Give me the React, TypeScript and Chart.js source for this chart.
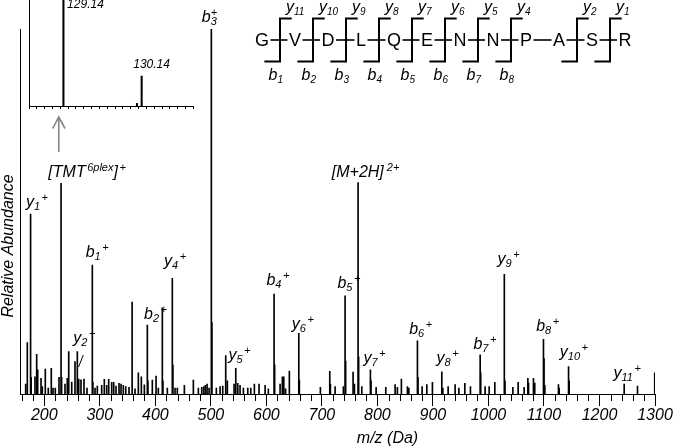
import React, { useEffect, useRef } from 'react';
import { Chart, registerables } from 'chart.js';

Chart.register(...registerables);

const FONT = '"Liberation Sans", Arial, Helvetica, sans-serif';

// ---------------- Data ----------------
// Main MS/MS spectrum: m/z (Da) and relative abundance (%)
const peakMz = [
  166.5, 169.4, 175.3, 176.3, 183.2, 186.3, 188.1, 194.1, 196.4, 201.8,
  207.2, 212.6, 215.7, 219.8, 226.5, 230.2, 231.2, 237.3, 241.4, 244.0,
  249.4, 255.3, 259.5, 262.0, 266.1, 271.5, 276.9, 286.5, 287.5, 291.4,
  295.5, 303.4, 308.1, 312.4, 316.0, 321.4, 325.0, 329.2, 334.6, 338.2,
  342.3, 346.7, 352.6, 358.2, 363.4, 369.4, 374.8, 380.2, 385.6, 386.6,
  394.6, 401.3, 405.4, 412.6, 413.6, 421.6, 430.6, 431.6, 435.5, 439.6,
  452.3, 468.5, 477.5, 483.6, 487.2, 490.1, 493.2, 496.8, 500.9, 501.9,
  509.9, 516.6, 521.4, 526.8, 529.7, 541.8, 544.9, 548.5, 552.6, 558.6,
  566.5, 571.9, 578.4, 586.8, 597.7, 603.6, 613.9, 614.9, 624.7, 628.8,
  631.4, 634.6, 641.4, 658.4, 659.4, 697.3, 714.2, 715.3, 723.8, 738.7,
  741.8, 742.8, 756.2, 758.6, 765.2, 766.2, 771.9, 787.4, 788.5, 797.7,
  815.1, 831.9, 836.0, 843.2, 854.1, 856.6, 872.1, 873.1, 880.5, 889.0,
  899.1, 916.0, 917.8, 927.4, 940.0, 946.7, 957.5, 967.6, 985.1, 986.1,
  994.0, 1001.3, 1011.5, 1028.6, 1029.8, 1044.0, 1053.5, 1064.3, 1071.0, 1072.2,
  1081.1, 1083.4, 1099.1, 1100.1, 1101.6, 1126.1, 1127.4, 1144.3, 1145.4, 1244.5,
  1268.5, 1299.5,
];
const peakAbundance = [
  2.7, 14.1, 49.3, 4.6, 4.7, 10.9, 6.6, 4.3, 2.0, 6.8,
  1.6, 7.0, 1.6, 1.6, 4.6, 57.7, 4.6, 2.7, 4.3, 11.6,
  3.3, 8.9, 11.6, 4.1, 3.9, 4.1, 1.6, 35.3, 3.3, 1.6,
  2.2, 2.4, 4.0, 2.4, 4.0, 3.2, 3.2, 2.2, 2.9, 2.7,
  2.4, 2.0, 1.8, 25.2, 1.4, 5.8, 4.7, 2.5, 18.9, 3.6,
  3.8, 4.9, 1.6, 23.6, 3.6, 1.6, 31.7, 7.9, 1.6, 1.6,
  2.4, 3.8, 1.6, 1.8, 2.0, 2.4, 2.7, 1.6, 100, 19.6,
  1.6, 2.0, 2.2, 10.5, 3.6, 2.7, 7.0, 2.9, 2.4, 1.6,
  1.6, 1.6, 2.7, 2.7, 2.4, 1.4, 27.4, 8.0, 2.7, 4.7,
  4.7, 1.4, 6.3, 16.6, 3.8, 1.8, 6.2, 2.7, 2.0, 2.0,
  26.9, 9.0, 6.0, 2.7, 57.9, 10.2, 2.0, 6.6, 3.6, 1.8,
  1.8, 2.6, 1.8, 4.1, 2.0, 1.6, 14.6, 4.6, 2.0, 2.6,
  3.2, 6.1, 1.6, 2.0, 2.6, 1.6, 2.9, 2.0, 10.7, 5.8,
  2.0, 2.0, 3.2, 32.8, 3.6, 1.8, 3.2, 1.8, 4.3, 3.0,
  4.3, 3.0, 15.0, 9.7, 2.4, 2.6, 1.6, 7.5, 3.6, 2.7,
  2.2, 5.8,
];

// Annotated fragment ions (base letter, index, charge) and the peak they mark
const ionMz = [175.3, 230.2, 286.5, 262.0, 385.6, 430.6, 500.9, 544.9, 613.9, 658.4,
  741.8, 765.2, 787.4, 872.1, 916.0, 985.1, 1028.6, 1099.1, 1144.3, 1244.5];
const ionBase = ['y', '[TMT', 'b', 'y', 'b', 'y', 'b', 'y', 'b', 'y',
  'b', '[M+2H]', 'y', 'b', 'y', 'b', 'y', 'b', 'y', 'y'];
const ionIndex = ['1', '6plex', '1', '2', '2', '4', '3', '5', '4', '6',
  '5', '', '7', '6', '8', '7', '9', '8', '10', '11'];
const ionCharge = ['+', '+', '+', '+', '+', '+', '+', '+', '+', '+',
  '+', '2+', '+', '+', '+', '+', '+', '+', '+', '+'];

// Inset: TMT reporter region
const insetMz = [129.14, 130.08, 130.14];
const insetAbundance = [120, 2.5, 28.3];
const insetLabelMz = [129.14, 130.14];
const insetLabels = ['129.14', '130.14'];

// Axis ticks
const xMin = 157.5;
const xMax = 1300;
const xMinorStep = 20;
const xMajorStep = 100;

// Peptide sequence and fragmentation sites
const residues = ['G', 'V', 'D', 'L', 'Q', 'E', 'N', 'N', 'P', 'A', 'S', 'R'];
const bIons = ['1', '2', '3', '4', '5', '6', '7', '8', '', '', '', ''];
const yIons = ['11', '10', '9', '8', '7', '6', '5', '4', '', '2', '1', ''];

// ---------------- Layout (pixels, not data) ----------------
const labelOffsets: Record<number, [number, number]> = {
  0: [-4.7, -7], 1: [-12.7, -6.6], 2: [-6.6, -8.3], 3: [-5.4, -36.3], 4: [-3.3, -5.7],
  5: [-8.3, -12], 6: [-9.6, -7.3], 7: [-7.4, -8.3], 8: [-7.7, -9], 9: [-7, -4],
  10: [-7.7, -7.4], 11: [-26.3, -5.4], 12: [-7, -7.3], 13: [-8.3, -6.7], 14: [-5.3, -8.4],
  15: [-6.7, -6], 16: [-6.7, -10], 17: [-7.3, -8.6], 18: [-8.7, -9.4], 19: [-10.7, -6],
};

type Seg = [string, 'n' | 'sub' | 'sup'];

function drawRich(ctx: CanvasRenderingContext2D, x: number, y: number, segs: Seg[], size: number, small: number, stacked = false, supGap = 1.5) {
  let cx = x;
  let subStart = x;
  ctx.textAlign = 'left';
  ctx.textBaseline = 'alphabetic';
  for (const [t, k] of segs) {
    if (!t) continue;
    const fs = k === 'n' ? size : small;
    ctx.font = `italic ${fs}px ${FONT}`;
    let dy = 0;
    if (k === 'sub') { dy = 3; subStart = cx; }
    if (k === 'sup') {
      dy = -Math.round(size * 0.38);
      if (stacked) cx = subStart; else cx += supGap;
    }
    ctx.fillText(t, cx, y + dy);
    cx += ctx.measureText(t).width;
  }
}

function abundanceAt(mz: number) {
  const i = peakMz.indexOf(mz);
  return i >= 0 ? peakAbundance[i] : 0;
}

const annotationPlugin = {
  id: 'spectrumAnnotations',
  afterDraw(chart: any) {
    const ctx: CanvasRenderingContext2D = chart.ctx;
    const xs = chart.scales.x;
    const ys = chart.scales.y;
    const area = chart.chartArea;
    ctx.save();
    ctx.fillStyle = '#000';
    ctx.strokeStyle = '#000';

    // minor x ticks
    ctx.lineWidth = 1;
    ctx.beginPath();
    for (let v = Math.ceil(xMin / xMinorStep) * xMinorStep; v <= xMax; v += xMinorStep) {
      if (v % xMajorStep === 0) continue;
      const px = Math.round(xs.getPixelForValue(v)) + 0.5;
      ctx.moveTo(px, area.bottom);
      ctx.lineTo(px, area.bottom + 7);
    }
    ctx.stroke();

    // ion labels
    ionMz.forEach((mz, i) => {
      const px = xs.getPixelForValue(mz);
      const py = ys.getPixelForValue(abundanceAt(mz));
      const [dx, dy] = labelOffsets[i] || [-8, -7];
      const base = ionBase[i];
      let segs: Seg[];
      let gap = 1.5;
      if (base === '[TMT') segs = [['[TMT', 'n'], [ionIndex[i], 'sup'], [']', 'n'], [ionCharge[i], 'sup']];
      else if (base === '[M+2H]') { segs = [['[M+2H]', 'n'], [ionCharge[i], 'sup']]; gap = 3; }
      else segs = [[base, 'n'], [ionIndex[i], 'sub'], [ionCharge[i], 'sup']];
      const stacked = base === 'b' && ionIndex[i] === '3';
      drawRich(ctx, px + dx, py + dy, segs, 16, 11, stacked, gap);
      if (base === 'y' && ionIndex[i] === '2') {
        ctx.lineWidth = 1;
        ctx.beginPath();
        ctx.moveTo(px + 4.6, py - 24);
        ctx.lineTo(px - 0.2, py - 12);
        ctx.stroke();
      }
    });

    // arrow pointing from TMT region to inset
    const ax = xs.getPixelForValue(230.2) - 2.3;
    ctx.strokeStyle = '#858585';
    ctx.lineWidth = 1.6;
    ctx.beginPath();
    ctx.moveTo(ax, 152);
    ctx.lineTo(ax, 118);
    ctx.moveTo(ax - 6, 128.5);
    ctx.lineTo(ax, 117);
    ctx.lineTo(ax + 6.3, 128.5);
    ctx.stroke();

    // axis titles
    ctx.fillStyle = '#000';
    ctx.font = `italic 16px ${FONT}`;
    ctx.textAlign = 'center';
    ctx.textBaseline = 'alphabetic';
    ctx.fillText('m/z (Da)', 387.5, 443);
    ctx.save();
    ctx.translate(8.5, 246);
    ctx.rotate(-Math.PI / 2);
    ctx.textBaseline = 'middle';
    ctx.fillText('Relative Abundance', 0, 0);
    ctx.restore();

    // peptide fragmentation diagram
    const x0 = 262;
    const step = 33;
    const yMid = 40;
    ctx.font = `18px ${FONT}`;
    ctx.textAlign = 'center';
    ctx.textBaseline = 'middle';
    ctx.fillStyle = '#000';
    const halfW: number[] = [];
    residues.forEach((r, i) => {
      const w = ctx.measureText(r).width;
      halfW.push(w / 2);
      ctx.fillText(r, x0 + i * step, yMid + 1);
    });
    ctx.strokeStyle = '#000';
    ctx.lineWidth = 1.6;
    for (let i = 0; i < residues.length - 1; i++) {
      const a = x0 + i * step + halfW[i] + 1.5;
      const b = x0 + (i + 1) * step - halfW[i + 1] - 1.5;
      ctx.beginPath();
      ctx.moveTo(a, yMid);
      ctx.lineTo(b, yMid);
      ctx.stroke();
      if (!bIons[i] && !yIons[i]) continue;
      const bx = x0 + i * step + step / 2 + 1.5;
      ctx.lineWidth = 2;
      ctx.beginPath();
      ctx.moveTo(bx + 11.7, 18.5);
      ctx.lineTo(bx, 18.5);
      ctx.lineTo(bx, 61.5);
      ctx.lineTo(bx - 15.6, 61.5);
      ctx.stroke();
      ctx.lineWidth = 1.6;
      if (yIons[i]) drawRich(ctx, bx + 6, 11.7, [['y', 'n'], [yIons[i], 'sub']], 16, 10);
      if (bIons[i]) drawRich(ctx, bx - 11.5, 80, [['b', 'n'], [bIons[i], 'sub']], 16, 10);
    }
    ctx.restore();
  },
};

const insetLabelPlugin = {
  id: 'insetLabels',
  afterDraw(chart: any) {
    const ctx: CanvasRenderingContext2D = chart.ctx;
    const xs = chart.scales.x;
    const ys = chart.scales.y;
    ctx.save();
    ctx.fillStyle = '#000';
    ctx.font = `italic 12px ${FONT}`;
    ctx.textBaseline = 'alphabetic';
    ctx.textAlign = 'left';
    insetLabelMz.forEach((mz, i) => {
      const px = xs.getPixelForValue(mz);
      const idx = insetMz.indexOf(mz);
      const h = insetAbundance[idx];
      if (h >= 100) {
        ctx.fillText(insetLabels[i], px + 3.7, chart.chartArea.top + 8.3);
      } else {
        ctx.fillText(insetLabels[i], px - 8.4, ys.getPixelForValue(h) - 7.7);
      }
    });
    ctx.restore();
  },
};

export default function App() {
  const mainRef = useRef<HTMLCanvasElement>(null);
  const insetRef = useRef<HTMLCanvasElement>(null);

  useEffect(() => {
    const main = new Chart(mainRef.current as HTMLCanvasElement, {
      type: 'bar',
      data: {
        datasets: [{
          data: peakMz.map((x, i) => ({ x, y: peakAbundance[i] })),
          backgroundColor: '#000',
          borderWidth: 0,
          barThickness: 1,
          grouped: false,
        }],
      },
      options: {
        animation: false,
        responsive: false,
        maintainAspectRatio: false,
        events: [],
        layout: { padding: { top: 29, right: 25, left: 0, bottom: 0 } },
        plugins: { legend: { display: false }, tooltip: { enabled: false } },
        scales: {
          x: {
            type: 'linear',
            min: xMin,
            max: xMax,
            offset: false,
            ticks: {
              stepSize: xMinorStep,
              autoSkip: false,
              includeBounds: false,
              maxRotation: 0,
              padding: 0,
              color: '#000',
              font: { family: FONT, size: 16, style: 'italic' },
              callback: (v: any) => (Number(v) % xMajorStep === 0 ? String(v) : ''),
            },
            grid: {
              offset: false,
              drawOnChartArea: false,
              drawTicks: true,
              tickLength: 12,
              tickColor: (c: any) => (c.tick && c.tick.value % xMajorStep === 0 ? '#000' : 'rgba(0,0,0,0)'),
            },
            border: { display: true, color: '#000', width: 1 },
            afterFit: (s: any) => { s.height = 54; },
          },
          y: {
            type: 'linear',
            min: 0,
            max: 100,
            ticks: { display: false },
            grid: { display: false },
            border: { display: true, color: '#000', width: 1 },
            afterFit: (s: any) => { s.width = 20.7; },
          },
        },
      } as any,
      plugins: [annotationPlugin],
    });

    const inset = new Chart(insetRef.current as HTMLCanvasElement, {
      type: 'bar',
      data: {
        datasets: [{
          data: insetMz.map((x, i) => ({ x, y: insetAbundance[i] })),
          backgroundColor: '#000',
          borderWidth: 0,
          barThickness: 1.4,
          grouped: false,
        }],
      },
      options: {
        animation: false,
        responsive: false,
        maintainAspectRatio: false,
        events: [],
        layout: { padding: { top: 0, right: 6.7, left: 0, bottom: 0 } },
        plugins: { legend: { display: false }, tooltip: { enabled: false } },
        scales: {
          x: {
            type: 'linear',
            min: 128.7,
            max: 130.8,
            offset: false,
            ticks: { stepSize: 0.1, autoSkip: false, includeBounds: false, display: true, callback: () => '', font: { size: 1 } },
            grid: { offset: false, drawOnChartArea: false, drawTicks: true, tickLength: 3, tickColor: '#000' },
            border: { display: true, color: '#000', width: 1 },
            afterFit: (s: any) => { s.height = 6; },
          },
          y: {
            type: 'linear',
            min: 0,
            max: 100,
            ticks: { display: false },
            grid: { display: false },
            border: { display: true, color: '#000', width: 1 },
            afterFit: (s: any) => { s.width = 9; },
          },
        },
      } as any,
      plugins: [insetLabelPlugin],
    });

    return () => {
      main.destroy();
      inset.destroy();
    };
  }, []);

  return (
    <div style={{ position: 'absolute', left: 0, top: 0, width: 680, height: 448, background: '#fff' }}>
      <canvas ref={mainRef} width={680} height={448} style={{ position: 'absolute', left: 0, top: 0 }} />
      <canvas ref={insetRef} width={180} height={112} style={{ position: 'absolute', left: 20, top: 0 }} />
    </div>
  );
}
